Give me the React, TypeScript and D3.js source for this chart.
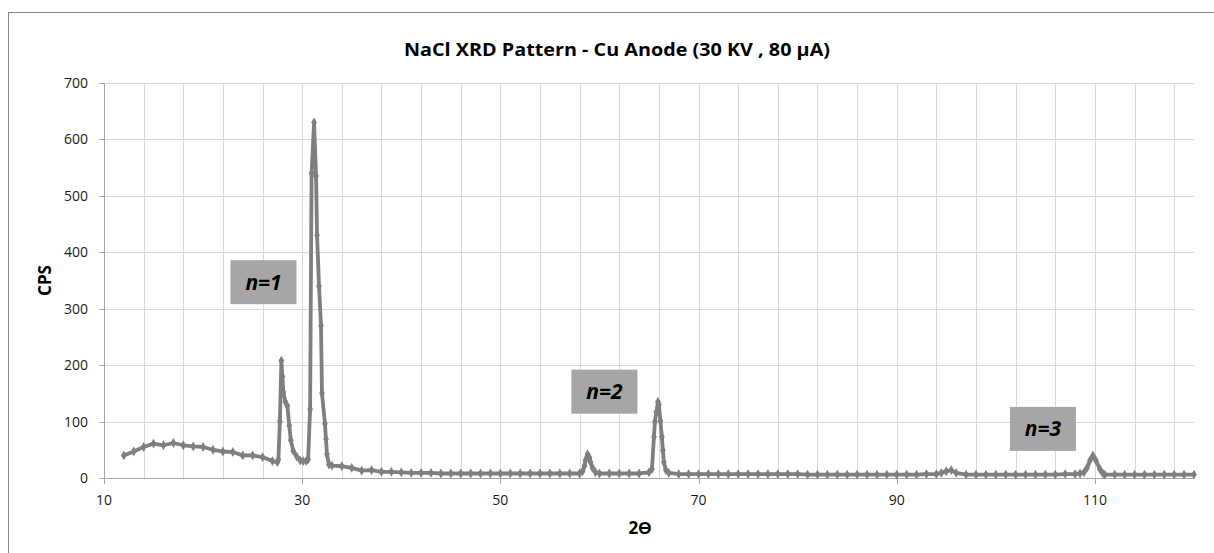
import * as d3 from "d3";

// 2-theta (degrees) and counts per second
const twoTheta = [
  12, 13, 14, 15, 16, 17, 18, 19, 20, 21, 22, 23, 24, 25, 26, 27, 27.5, 27.6, 27.75, 27.9,
  28.0, 28.1, 28.3, 28.5, 28.7, 28.85, 29.1, 29.45, 29.8, 30.1, 30.4, 30.6, 30.8, 30.95, 31.2,
  31.4, 31.5, 31.7, 31.9, 32.0, 32.3, 32.4, 32.5, 32.7, 33, 34, 35, 36, 37, 38, 39, 40, 41, 42,
  43, 44, 45, 46, 47, 48, 49, 50, 51, 52, 53, 54, 55, 56, 57, 58, 58.3, 58.5, 58.6, 58.8, 59.0,
  59.1, 59.3, 59.6, 60, 61, 62, 63, 64, 65.0, 65.3, 65.5, 65.6, 65.75, 65.9, 66.0, 66.15, 66.3,
  66.4, 66.5, 66.7, 67, 68, 69, 70, 71, 72, 73, 74, 75, 76, 77, 78, 79, 80, 81, 82, 83, 84, 85,
  86, 87, 88, 89, 90, 91, 92, 93, 94, 94.5, 95, 95.5, 96, 97, 98, 99, 100, 101, 102, 103, 104,
  105, 106, 107, 108, 108.5, 108.9, 109.2, 109.5, 109.8, 110.1, 110.5, 110.8, 111, 112, 113,
  114, 115, 116, 117, 118, 119, 120,
];
const cps = [
  40, 47, 55, 61, 58, 62, 58, 56, 55, 50, 47, 46, 40, 40, 37, 30, 28, 33, 100, 208,
  180, 152, 135, 128, 93, 67, 48, 38, 31, 30, 30, 33, 122, 540, 630,
  535, 430, 340, 270, 150, 96, 69, 42, 24, 22, 21, 18, 13, 14, 11, 11, 10, 9, 9,
  9, 8, 8, 8, 8, 8, 8, 8, 8, 8, 8, 8, 8, 8, 8, 8, 12, 22, 32, 42, 36,
  28, 18, 10, 8, 8, 8, 8, 8, 10, 16, 73, 100, 117, 135, 130, 101, 73,
  49, 28, 14, 9, 7, 7, 7, 7, 7, 7, 7, 7, 7, 7, 7, 7, 7, 6, 6, 6, 6, 6,
  6, 6, 6, 6, 6, 6, 6, 7, 7, 9, 12, 14, 9, 6, 6, 6, 6, 6, 6, 6, 6,
  6, 6, 7, 7, 8, 10, 18, 31, 40, 31, 16, 8, 6, 6, 6,
  6, 6, 6, 6, 6, 6, 6,
];

const xMajorTicks = [10, 30, 50, 70, 90, 110];
const yTicks = [0, 100, 200, 300, 400, 500, 600, 700];

const noteLabels = ["n=1", "n=2", "n=3"];
const noteTheta = [26.1, 60.5, 104.75];
const noteCps = [347, 153, 87];

const W = 1214;
const H = 553;
const plot = { left: 104, right: 1194, top: 83, bottom: 478 };
const font = "'Open Sans', 'Liberation Sans', sans-serif";

export default function App() {
  const x = d3.scaleLinear().domain([10, 120]).range([plot.left, plot.right]);
  const y = d3.scaleLinear().domain([0, 700]).range([plot.bottom, plot.top]);

  const points: [number, number][] = twoTheta.map((t, i) => [t, cps[i]]);
  const line = d3.line<[number, number]>()
    .x(d => x(d[0]))
    .y(d => y(d[1]));
  const diamond = d3.symbol().type(d3.symbolDiamond).size(28)() || "";

  // minor vertical gridlines every 4 degrees, like the Excel original
  const xGrid = d3.range(14, 120, 4);

  return (
    <svg
      width={W}
      height={H}
      style={{ position: "fixed", left: 0, top: 0, background: "#fff" }}
      fontFamily={font}
    >
      {/* chart frame, runs off the right and bottom edges */}
      <rect x={8.5} y={12.5} width={W + 20} height={H + 20} fill="#fff" stroke="#868686" strokeWidth={1} />

      <text x={617} y={56} textAnchor="middle" fontSize={17} fontWeight="bold" fill="#000"
        textLength={426} lengthAdjust="spacingAndGlyphs">
        NaCl XRD Pattern - Cu Anode (30 KV , 80 µA)
      </text>

      {/* gridlines */}
      <g stroke="#d9d9d9" strokeWidth={1}>
        {yTicks.filter(t => t > 0).map(t => (
          <line key={`h${t}`} x1={plot.left} x2={plot.right} y1={Math.round(y(t)) + 0.5} y2={Math.round(y(t)) + 0.5} />
        ))}
        {xGrid.map(t => (
          <line key={`v${t}`} x1={Math.round(x(t)) + 0.5} x2={Math.round(x(t)) + 0.5} y1={plot.top} y2={plot.bottom} />
        ))}
      </g>

      {/* axes */}
      <g stroke="#a6a6a6" strokeWidth={1}>
        <line x1={plot.left + 0.5} x2={plot.left + 0.5} y1={plot.top} y2={plot.bottom} />
        <line x1={plot.left - 5} x2={plot.right} y1={Math.round(y(0)) + 0.5} y2={Math.round(y(0)) + 0.5} />
        {yTicks.map(t => (
          <line key={`yt${t}`} x1={plot.left - 5} x2={plot.left} y1={Math.round(y(t)) + 0.5} y2={Math.round(y(t)) + 0.5} />
        ))}
        {xMajorTicks.map(t => (
          <line key={`xt${t}`} x1={Math.round(x(t)) + 0.5} x2={Math.round(x(t)) + 0.5} y1={plot.bottom} y2={plot.bottom + 6} />
        ))}
      </g>

      {/* tick labels */}
      <g fontSize={14} fill="#1a1a1a">
        {yTicks.map(t => (
          <text key={`yl${t}`} x={plot.left - 16} y={y(t) + 5} textAnchor="end">{t}</text>
        ))}
        {xMajorTicks.map(t => (
          <text key={`xl${t}`} x={x(t)} y={plot.bottom + 27} textAnchor="middle">{t}</text>
        ))}
      </g>

      {/* axis titles */}
      <text
        transform={`translate(51, ${(plot.top + plot.bottom) / 2}) rotate(-90)`}
        textAnchor="middle"
        fontSize={17}
        fontWeight="bold"
      >
        CPS
      </text>
      <text x={640} y={534} textAnchor="middle" fontSize={17} fontWeight="bold">
        2Ɵ
      </text>

      {/* data */}
      <path d={line(points) || ""} fill="none" stroke="#7f7f7f" strokeWidth={3.8} strokeLinejoin="round" />
      <g fill="#7f7f7f">
        {points.map((d, i) => (
          <path key={i} d={diamond} transform={`translate(${x(d[0])}, ${y(d[1])})`} />
        ))}
      </g>

      {/* order annotations */}
      {noteLabels.map((lab, i) => (
        <g key={lab} transform={`translate(${x(noteTheta[i])}, ${y(noteCps[i])})`}>
          <rect x={-33} y={-22} width={66} height={44} fill="#a6a6a6" />
          <text y={7.5} textAnchor="middle" fontSize={21} fontWeight="bold" fontStyle="italic" fill="#000">
            {lab}
          </text>
        </g>
      ))}
    </svg>
  );
}
